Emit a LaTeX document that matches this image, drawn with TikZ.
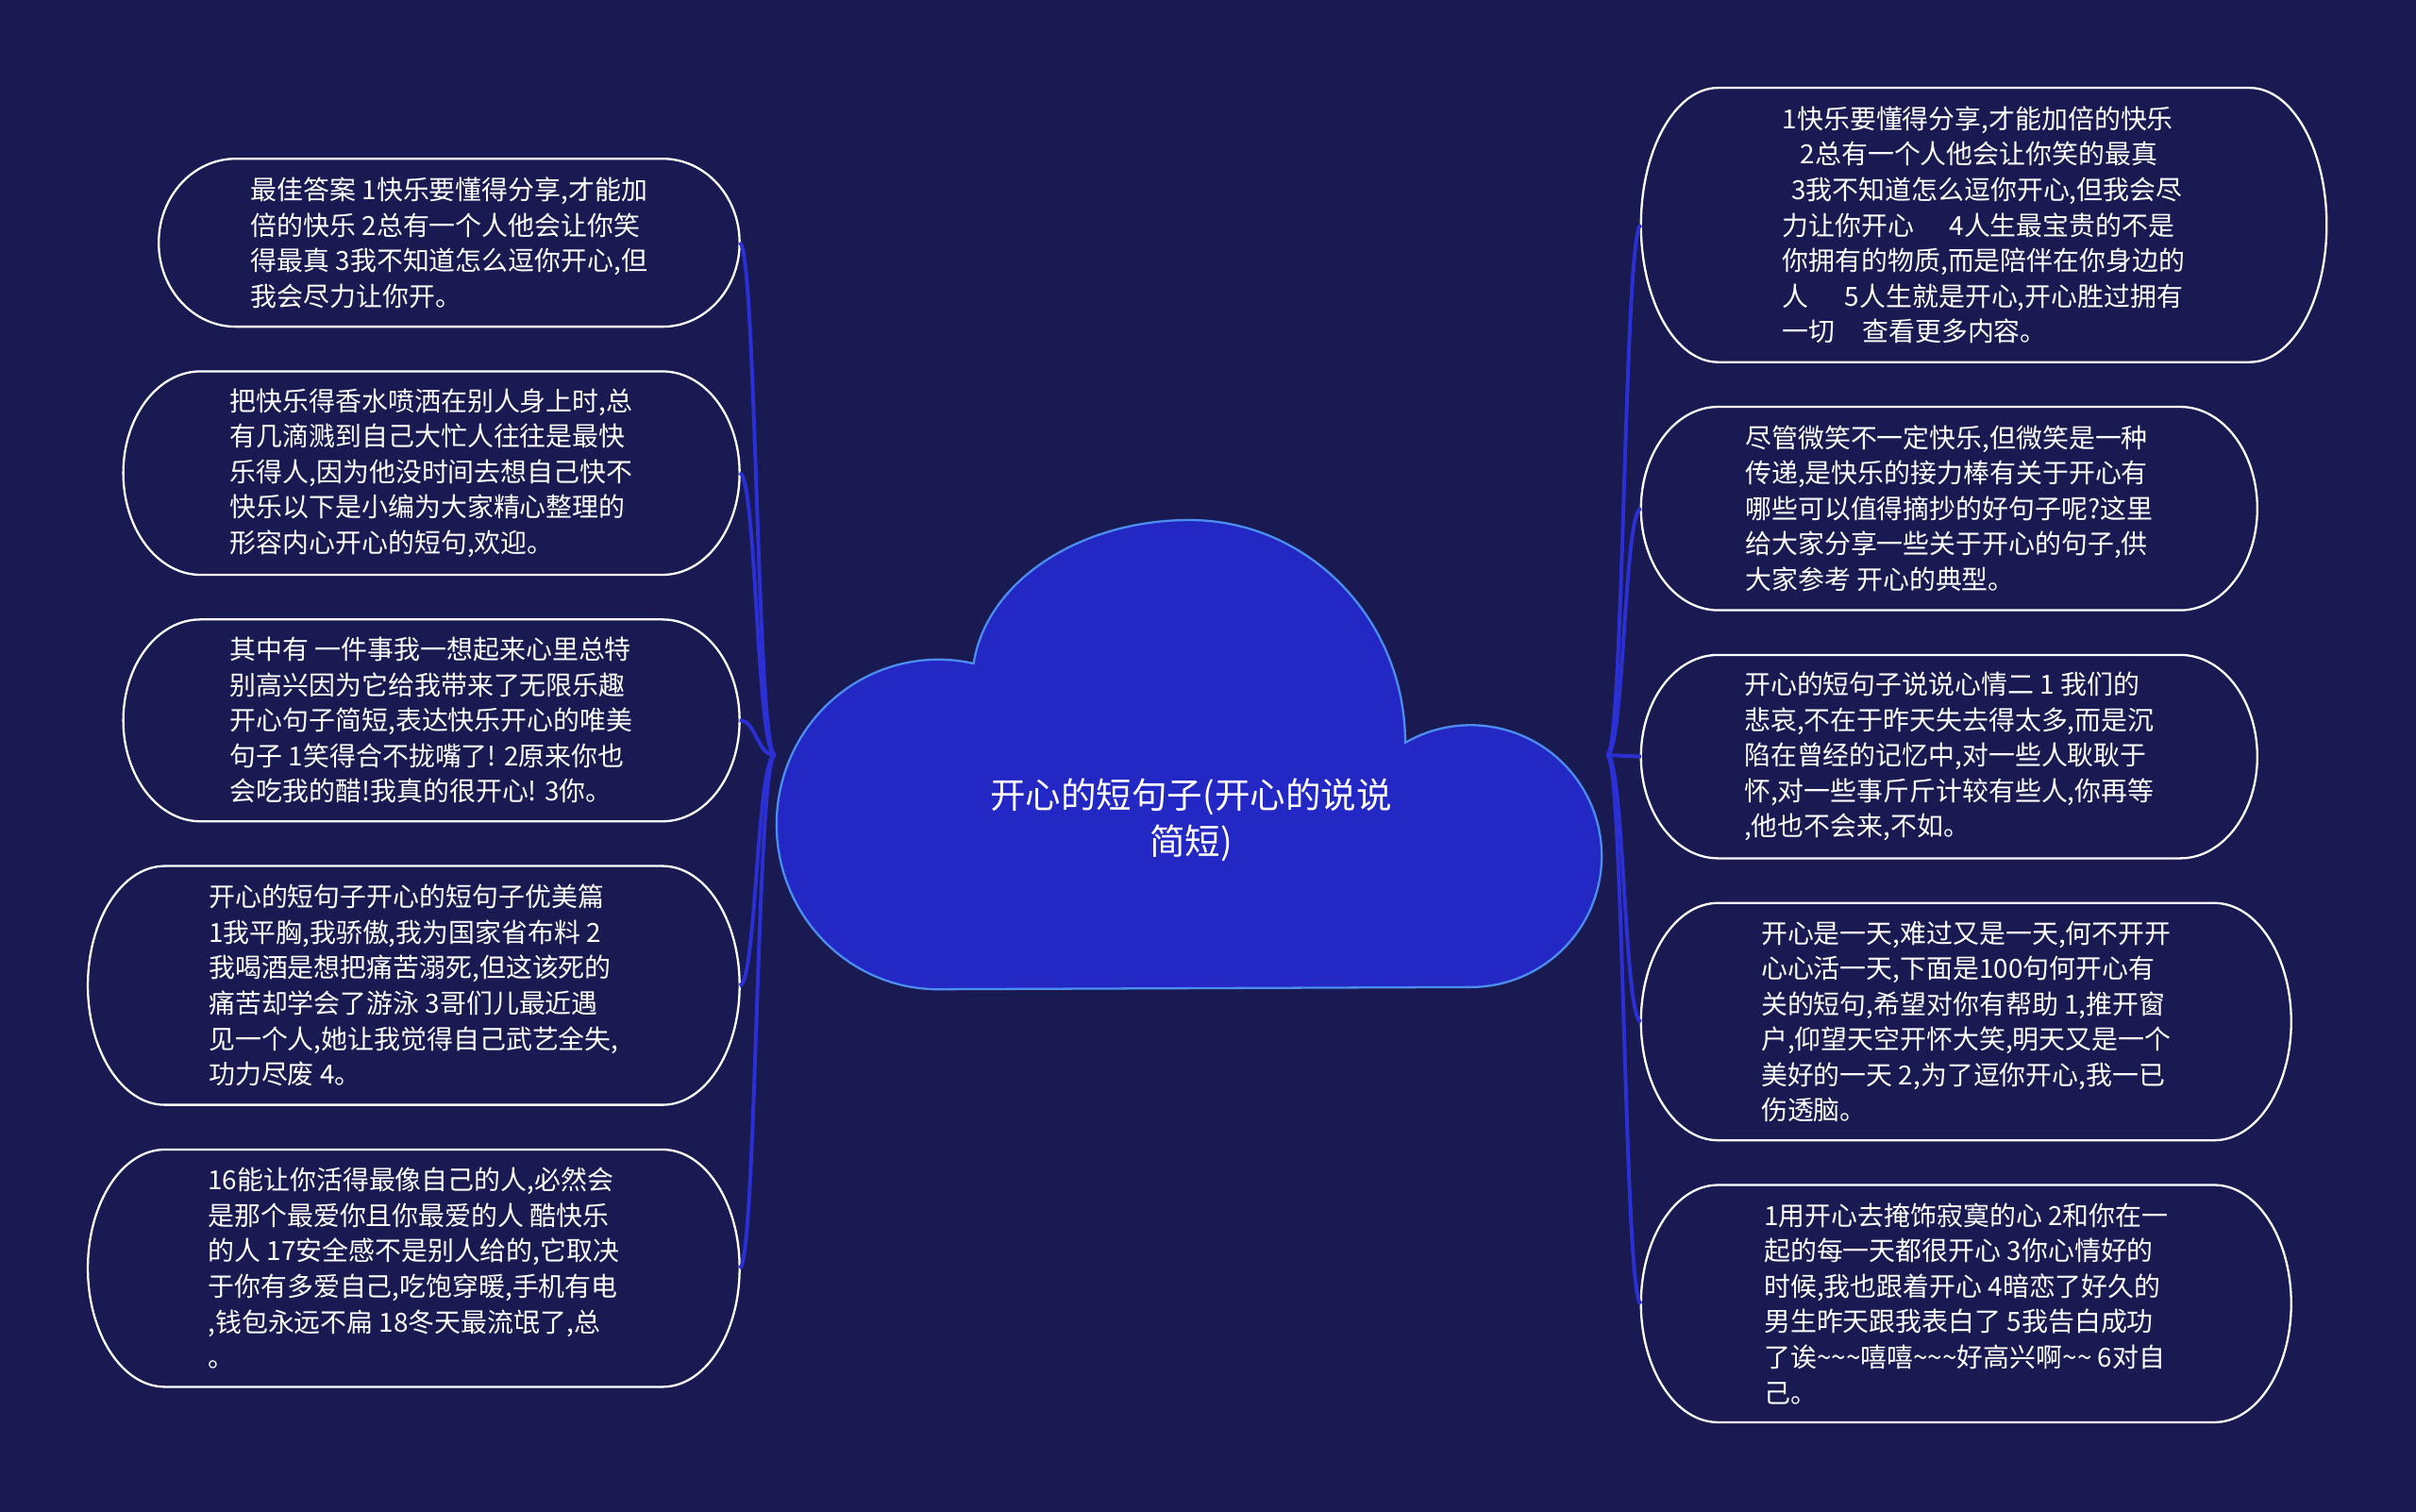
\documentclass[tikz,border=0pt]{standalone}
\usepackage{fontspec}
\newfontfamily\cjkfont{Noto Sans CJK SC}
\usetikzlibrary{calc}
\definecolor{bgc}{RGB}{26,26,82}
\definecolor{cloudfill}{RGB}{35,39,195}
\definecolor{cloudline}{RGB}{76,141,240}
\definecolor{connc}{RGB}{43,48,213}
\tikzset{
  leaftext/.style={align=left, text=white, inner sep=0pt, outer sep=0pt,
    font=\cjkfont\fontsize{8.55pt}{11.5pt}\selectfont},
  leafline/.style={draw=white, line width=0.7pt},
  conn/.style={draw=connc, line width=1.2pt},
  titletext/.style={align=center, text=white, inner sep=0pt,
    font=\cjkfont\fontsize{11.5pt}{15pt}\selectfont},
  cloudshape/.style={fill=cloudfill, draw=cloudline, line width=0.7pt}
}
% name, cx, cy, W, H (picture units), text
\newcommand\leafbox[6]{%
  \node[leaftext, minimum width=#4*0.5pt, minimum height=#5*0.5pt] (#1) at (#2,#3) {#6};
  \draw[leafline] ($(#1.north west)+(50,0)$) -- ($(#1.north east)+(-50,0)$)
    arc[start angle=-90, end angle=90, x radius=50, y radius=#5/2]
    -- ($(#1.south west)+(50,0)$)
    arc[start angle=90, end angle=270, x radius=50, y radius=#5/2] -- cycle;
}
\begin{document}
\begin{tikzpicture}[x=0.5pt, y=-0.5pt]
\fill[bgc] (0,0) rectangle (1568,981);
\useasboundingbox (0,0) rectangle (1568,981);

% cloud
\draw[cloudshape] (609,642)
  arc[start angle=90, end angle=282.6, x radius=105, y radius=107]
  arc[start angle=186.5, end angle=270, x radius=141, y radius=105]
  arc[start angle=270, end angle=360, x radius=140, y radius=144.5]
  arc[start angle=240, end angle=450, radius=85]
  -- cycle;
\node[titletext] (C) at (773,532) {开心的短句子(开心的说说\\简短)};

\coordinate (JL) at (503,490);
\coordinate (JR) at (1043,490);

% left nodes
\leafbox{L1}{291.5}{157.5}{377}{109}{最佳答案 1快乐要懂得分享,才能加\\倍的快乐 2总有一个人他会让你笑\\得最真 3我不知道怎么逗你开心,但\\我会尽力让你开。}
\leafbox{L2}{280}{307}{400}{132}{把快乐得香水喷洒在别人身上时,总\\有几滴溅到自己大忙人往往是最快\\乐得人,因为他没时间去想自己快不\\快乐以下是小编为大家精心整理的\\形容内心开心的短句,欢迎。}
\leafbox{L3}{280}{467.5}{400}{131}{其中有 一件事我一想起来心里总特\\别高兴因为它给我带来了无限乐趣\\开心句子简短,表达快乐开心的唯美\\句子 1笑得合不拢嘴了! 2原来你也\\会吃我的醋!我真的很开心! 3你。}
\leafbox{L4}{268.5}{639.5}{423}{155}{开心的短句子开心的短句子优美篇\\1我平胸,我骄傲,我为国家省布料 2\\我喝酒是想把痛苦溺死,但这该死的\\痛苦却学会了游泳 3哥们儿最近遇\\见一个人,她让我觉得自己武艺全失,\\功力尽废 4。}
\leafbox{L5}{268.5}{823}{423}{154}{16能让你活得最像自己的人,必然会\\是那个最爱你且你最爱的人 酷快乐\\的人 17安全感不是别人给的,它取决\\于你有多爱自己,吃饱穿暖,手机有电\\,钱包永远不扁 18冬天最流氓了,总\\。}

% right nodes
\leafbox{R1}{1287.5}{146}{445}{178}{1快乐要懂得分享,才能加倍的快乐\\\hspace*{0.68em}2总有一个人他会让你笑的最真\\\hspace*{0.34em}3我不知道怎么逗你开心,但我会尽\\力让你开心\hspace{1.33em}4人生最宝贵的不是\\你拥有的物质,而是陪伴在你身边的\\人\hspace{1.37em}5人生就是开心,开心胜过拥有\\一切\hspace{1.03em}查看更多内容。}
\leafbox{R2}{1265}{330}{400}{132}{尽管微笑不一定快乐,但微笑是一种\\传递,是快乐的接力棒有关于开心有\\哪些可以值得摘抄的好句子呢?这里\\给大家分享一些关于开心的句子,供\\大家参考 开心的典型。}
\leafbox{R3}{1265}{491}{400}{132}{开心的短句子说说心情二 1 我们的\\悲哀,不在于昨天失去得太多,而是沉\\陷在曾经的记忆中,对一些人耿耿于\\怀,对一些事斤斤计较有些人,你再等\\,他也不会来,不如。}
\leafbox{R4}{1276}{663}{422}{154}{开心是一天,难过又是一天,何不开开\\心心活一天,下面是100句何开心有\\关的短句,希望对你有帮助 1,推开窗\\户,仰望天空开怀大笑,明天又是一个\\美好的一天 2,为了逗你开心,我一已\\伤透脑。}
\leafbox{R5}{1276}{846}{422}{154}{1用开心去掩饰寂寞的心 2和你在一\\起的每一天都很开心 3你心情好的\\时候,我也跟着开心 4暗恋了好久的\\男生昨天跟我表白了 5我告白成功\\了诶\textasciitilde\textasciitilde\textasciitilde 嘻嘻\textasciitilde\textasciitilde\textasciitilde 好高兴啊\textasciitilde\textasciitilde{} 6对自\\己。}

% connectors
\foreach \n in {L1,L2,L3,L4,L5}{
  \draw[conn] (\n.east) .. controls +(11,0) and +(-12,0) .. (JL);
}
\foreach \n in {R1,R2,R3,R4,R5}{
  \draw[conn] (JR) .. controls +(11,0) and +(-11,0) .. (\n.west);
}
\end{tikzpicture}
\end{document}
